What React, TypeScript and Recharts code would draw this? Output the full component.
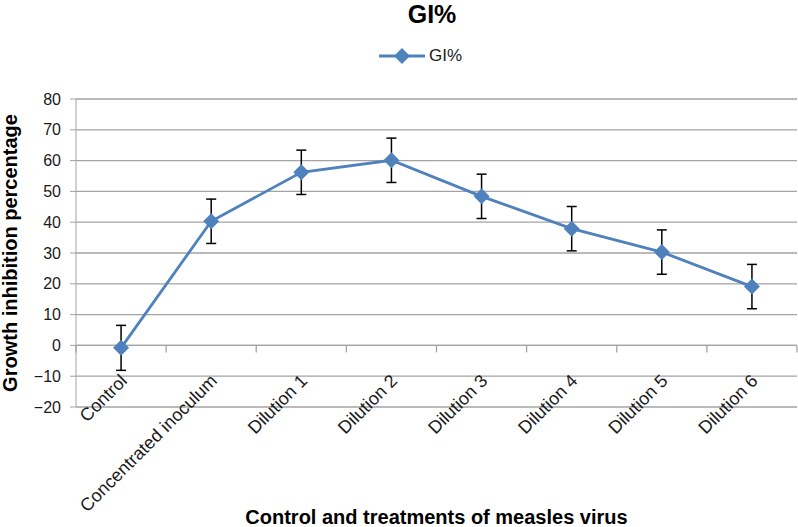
import React from 'react'
import { LineChart, Line, XAxis, YAxis, CartesianGrid, ErrorBar, ReferenceLine } from 'recharts'

const categories = [
  'Control',
  'Concentrated inoculum',
  'Dilution 1',
  'Dilution 2',
  'Dilution 3',
  'Dilution 4',
  'Dilution 5',
  'Dilution 6',
]
const giValues = [-0.8, 40.3, 56.2, 60.1, 48.4, 37.9, 30.3, 19.1]
const giErrors = [7.3, 7.2, 7.2, 7.2, 7.2, 7.2, 7.2, 7.2]
const yTicks = [-20, -10, 0, 10, 20, 30, 40, 50, 60, 70, 80]

const data = categories.map((name, i) => ({ name, gi: giValues[i], err: giErrors[i] }))

const W = 798
const H = 527
const PLOT_LEFT = 76
const PLOT_RIGHT = 797
const BLUE = '#4F81BD'
const GRID = '#a3a3a3'
const TEXT = '#1a1a1a'
const FONT = '"Liberation Sans", Arial, sans-serif'

const catHalf = (PLOT_RIGHT - PLOT_LEFT) / categories.length / 2

function Diamond(props: any) {
  const { cx, cy } = props
  if (cx == null || cy == null) return null
  const r = 8
  return <polygon points={`${cx},${cy - r} ${cx + r},${cy} ${cx},${cy + r} ${cx - r},${cy}`} fill={BLUE} />
}

// x axis drawn at y = 0, with tick marks between categories
function ZeroAxis(props: any) {
  const { x1, y1, x2, y2 } = props
  const n = categories.length
  const step = (x2 - x1) / n
  return (
    <g>
      <line x1={x1} y1={y1} x2={x2} y2={y2} stroke={GRID} strokeWidth={1.3} />
      {Array.from({ length: n + 1 }, (_, i) => (
        <line key={i} x1={x1 + i * step} y1={y1} x2={x1 + i * step} y2={y1 + 7} stroke={GRID} strokeWidth={1.3} />
      ))}
    </g>
  )
}

function CatTick(props: any) {
  const { x, y, payload } = props
  const ax = x + 7
  const ay = y - 33
  return (
    <text x={ax} y={ay} transform={`rotate(-45 ${ax} ${ay})`} textAnchor="end" fontSize={18} fill={TEXT} fontFamily={FONT}>
      {payload.value}
    </text>
  )
}

export default function App() {
  return (
    <div style={{ position: 'relative', width: W, height: H, fontFamily: FONT }}>
      <style>{'body{margin:0}'}</style>
      <div style={{ position: 'absolute', left: 0, top: 0, width: W, height: 80, textAlign: 'center', pointerEvents: 'none' }}>
        <div style={{ position: 'absolute', left: 0, width: W, top: 1.5, lineHeight: 1, paddingLeft: 66, boxSizing: 'border-box', fontSize: 25, fontWeight: 'bold', color: '#000' }}>
          GI%
        </div>
        <div style={{ position: 'absolute', left: 379, top: 46, display: 'flex', alignItems: 'center', fontSize: 17, color: TEXT }}>
          <svg width={46} height={20}>
            <line x1={0} y1={10} x2={46} y2={10} stroke={BLUE} strokeWidth={3} />
            <polygon points="23,2 31,10 23,18 15,10" fill={BLUE} />
          </svg>
          <span style={{ marginLeft: 4 }}>GI%</span>
        </div>
      </div>
      <LineChart width={W} height={H} data={data} margin={{ top: 99, right: W - PLOT_RIGHT, bottom: 0, left: 0 }}>
        <CartesianGrid vertical={false} stroke={GRID} strokeWidth={1.3} />
        <XAxis
          dataKey="name"
          height={120}
          axisLine={false}
          tickLine={false}
          interval={0}
          padding={{ left: catHalf, right: catHalf }}
          tick={<CatTick />}
          label={{
            value: 'Control and treatments of measles virus',
            position: 'insideBottom',
            offset: 3,
            fontSize: 20,
            fontWeight: 'bold',
            fill: '#000',
            fontFamily: FONT,
          }}
        />
        <YAxis
          width={PLOT_LEFT}
          domain={[-20, 80]}
          ticks={yTicks}
          interval={0}
          stroke={GRID}
          tickSize={6}
          tickMargin={9}
          tickFormatter={(v: number) => String(v).replace('-', '\u2212')}
          tick={{ fontSize: 16, fill: TEXT, fontFamily: FONT }}
          label={{
            value: 'Growth inhibition percentage',
            angle: -90,
            position: 'insideLeft',
            offset: 10,
            style: { textAnchor: 'middle' },
            fontSize: 20,
            fontWeight: 'bold',
            fill: '#000',
            fontFamily: FONT,
          }}
        />
        <ReferenceLine y={0} shape={ZeroAxis} />
        <Line
          dataKey="gi"
          stroke={BLUE}
          strokeWidth={2.8}
          dot={<Diamond />}
          activeDot={false}
          isAnimationActive={false}
        >
          <ErrorBar dataKey="err" direction="y" stroke="#000" strokeWidth={1.5} width={5} />
        </Line>
      </LineChart>
    </div>
  )
}
